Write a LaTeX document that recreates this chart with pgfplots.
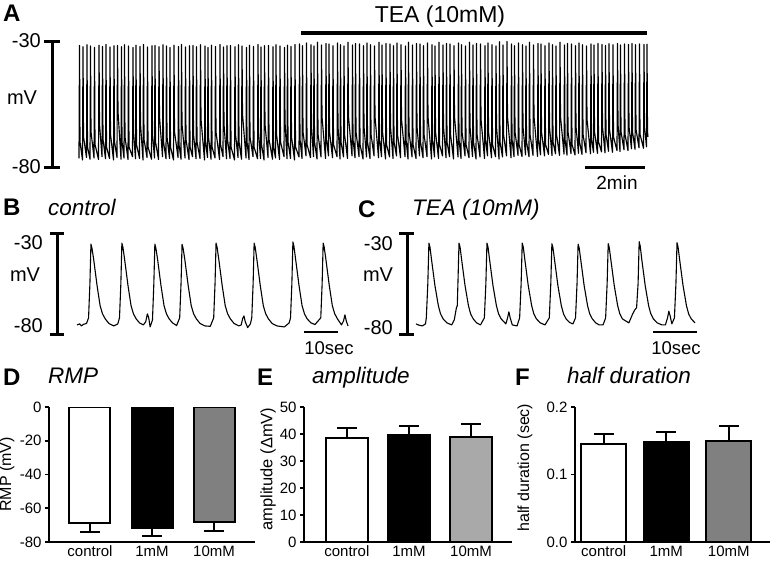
\documentclass[border=0pt]{standalone}
\usepackage{fontspec}
\setmainfont{Liberation Sans}
\usepackage{pgfplots}
\pgfplotsset{compat=1.18}
\definecolor{midgray}{HTML}{808080}
\definecolor{lightgray}{HTML}{A9A9A9}
\newcommand\fs[1]{\fontsize{#1}{#1}\selectfont}

\pgfplotsset{
  trace/.style={anchor=south west, scale only axis, hide axis, clip=false},
  bars/.style={anchor=south west, scale only axis, height=135pt, ybar, bar shift=0pt,
    axis x line*=bottom, axis y line*=left,
    xtick={0,1,2}, xticklabels={control,1mM,10mM}, xtick style={draw=none},
    tick align=outside, major tick length=4pt,
    axis line style={line width=1.8pt}, ytick style={line width=1.8pt, black},
    tick label style={font=\fs{15}}, /pgf/number format/assume math mode=true,
    xticklabel style={anchor=north, inner sep=0pt, text height=10.5pt, text depth=0pt, yshift=0pt},
    ylabel style={anchor=center},
    error bars/y explicit,
    error bars/error bar style={line width=1.8pt, black},
    error bars/error mark options={rotate=90, line width=1.8pt, black, mark size=10pt}},
  barfill/.style={draw=black, line width=2pt, fill=#1},
}

\begin{document}
\begin{tikzpicture}
\useasboundingbox (0pt,0pt) rectangle (771pt,-562pt);

% ---------------- A: long recording ----------------
\begin{axis}[trace, at={(79pt,-167pt)}, width=570pt, height=126pt,
  xmin=0, xmax=1140, ymin=-80, ymax=-30]
\addplot[black, line width=1.15pt, line join=round] coordinates {
(0,-76.6)(1,-31.8)(2,-70) (7,-77.2)(8,-32.3)(9,-68) (15,-76.2)(16,-31.5)(17,-72) (22,-76.9)(23,-32.0)(24,-66)
(30,-76.4)(31,-32.6)(32,-71) (39,-77.0)(40,-31.7)(41,-63) (46,-75.9)(47,-32.2)(48,-69) (53,-76.7)(54,-31.4)(55,-72)
(61,-76.6)(62,-32.4)(63,-67) (69,-77.2)(70,-31.9)(71,-70) (76,-76.2)(77,-31.8)(78,-58) (84,-76.9)(85,-32.3)(86,-70)
(90,-76.4)(91,-31.5)(92,-68) (98,-77.0)(99,-32.0)(100,-72) (107,-75.9)(108,-32.6)(109,-66) (113,-76.7)(114,-31.7)(115,-71)
(121,-76.6)(122,-32.2)(123,-63) (128,-77.2)(129,-31.4)(130,-69) (136,-76.2)(137,-32.4)(138,-72) (145,-76.9)(146,-31.9)(147,-67)
(151,-76.4)(152,-31.8)(153,-70) (159,-77.0)(160,-32.3)(161,-60) (167,-75.9)(168,-31.5)(169,-70) (174,-76.7)(175,-32.0)(176,-68)
(181,-76.6)(182,-32.6)(183,-72) (189,-77.2)(190,-31.7)(191,-66) (198,-76.2)(199,-32.2)(200,-71) (204,-76.9)(205,-31.4)(206,-63)
(212,-76.4)(213,-32.4)(214,-69) (220,-77.0)(221,-31.9)(222,-72) (227,-75.9)(228,-31.8)(229,-67) (234,-76.7)(235,-32.3)(236,-70)
(242,-76.6)(243,-31.5)(244,-61) (251,-77.2)(252,-32.0)(253,-70) (257,-76.2)(258,-32.6)(259,-68) (264,-76.9)(265,-31.7)(266,-72)
(272,-76.4)(273,-32.2)(274,-66) (281,-77.0)(282,-31.4)(283,-71) (288,-75.9)(289,-32.4)(290,-63) (295,-76.7)(296,-31.9)(297,-69)
(302,-76.6)(303,-31.8)(304,-72) (311,-77.2)(312,-32.3)(313,-67) (318,-76.2)(319,-31.5)(320,-70) (325,-76.9)(326,-32.0)(327,-59)
(334,-76.4)(335,-32.6)(336,-70) (340,-77.0)(341,-31.7)(342,-68) (348,-75.9)(349,-32.2)(350,-72) (357,-76.7)(358,-31.4)(359,-66)
(363,-76.6)(364,-32.4)(365,-71) (370,-77.2)(371,-31.9)(372,-63) (378,-76.2)(379,-31.8)(380,-69) (387,-76.9)(388,-32.3)(389,-72)
(393,-76.4)(394,-31.5)(395,-67) (401,-77.0)(402,-32.0)(403,-70) (410,-75.9)(411,-32.6)(412,-62) (416,-76.7)(417,-31.7)(418,-70)
(423,-76.6)(424,-32.2)(425,-68) (431,-77.2)(432,-31.4)(433,-72) (440,-76.0)(441,-31.2)(442,-69) (446,-76.6)(447,-31.9)(448,-66)
(454,-75.6)(455,-30.8)(456,-71) (463,-76.3)(464,-31.5)(465,-64) (469,-75.9)(470,-32.0)(471,-70) (476,-76.8)(477,-30.5)(478,-67)
(484,-76.0)(485,-31.6)(486,-60) (493,-76.6)(494,-31.0)(495,-69) (499,-75.6)(500,-31.2)(501,-66) (507,-76.3)(508,-31.9)(509,-71)
(516,-75.9)(517,-30.8)(518,-64) (522,-76.8)(523,-31.5)(524,-70) (529,-76.0)(530,-32.0)(531,-67) (537,-76.6)(538,-30.5)(539,-60)
(546,-75.6)(547,-31.6)(548,-69) (552,-76.3)(553,-31.0)(554,-66) (560,-75.9)(561,-31.2)(562,-71) (568,-76.8)(569,-31.9)(570,-64)
(575,-76.0)(576,-30.8)(577,-70) (582,-76.6)(583,-31.5)(584,-67) (590,-75.6)(591,-32.0)(592,-60) (599,-76.3)(600,-30.5)(601,-69)
(605,-75.9)(606,-31.6)(607,-66) (613,-76.8)(614,-31.0)(615,-71) (621,-76.0)(622,-31.2)(623,-64) (628,-76.6)(629,-31.9)(630,-70)
(635,-75.6)(636,-30.8)(637,-67) (643,-76.3)(644,-31.5)(645,-61) (652,-75.9)(653,-32.0)(654,-69) (658,-76.8)(659,-30.5)(660,-66)
(666,-76.0)(667,-31.6)(668,-71) (674,-76.6)(675,-31.0)(676,-64) (681,-75.6)(682,-31.2)(683,-70) (688,-76.3)(689,-31.9)(690,-67)
(696,-75.9)(697,-30.8)(698,-60) (705,-76.8)(706,-31.5)(707,-69) (711,-76.0)(712,-32.0)(713,-66) (719,-76.6)(720,-30.5)(721,-71)
(727,-75.6)(728,-31.6)(729,-64) (734,-76.3)(735,-31.0)(736,-70) (741,-75.9)(742,-31.2)(743,-67) (749,-76.8)(750,-31.9)(751,-60)
(758,-76.0)(759,-30.8)(760,-69) (764,-76.6)(765,-31.5)(766,-66) (772,-75.6)(773,-32.0)(774,-71) (780,-76.3)(781,-30.5)(782,-64)
(787,-75.9)(788,-31.6)(789,-70) (794,-76.8)(795,-31.0)(796,-67) (802,-76.0)(803,-31.2)(804,-61) (811,-76.6)(812,-31.9)(813,-69)
(817,-75.6)(818,-30.8)(819,-66) (825,-76.3)(826,-31.5)(827,-71) (833,-75.9)(834,-32.0)(835,-64) (840,-76.8)(841,-30.3)(842,-70)
(847,-76.0)(848,-31.6)(849,-67) (855,-75.6)(856,-30.2)(857,-60) (864,-76.3)(865,-31.2)(866,-69) (870,-75.9)(871,-31.9)(872,-66)
(878,-75.4)(879,-30.8)(880,-71) (886,-75.8)(887,-31.5)(888,-64) (893,-75.2)(894,-32.0)(895,-70) (900,-75.9)(901,-30.5)(902,-67)
(908,-75.4)(909,-31.6)(910,-60) (917,-75.8)(918,-31.0)(919,-69) (923,-75.2)(924,-31.2)(925,-66) (931,-75.6)(932,-31.9)(933,-71)
(939,-75.0)(940,-30.8)(941,-64) (946,-75.5)(947,-31.5)(948,-70) (953,-74.8)(954,-32.0)(955,-67) (961,-75.4)(962,-30.5)(963,-60)
(970,-74.9)(971,-31.6)(972,-69) (976,-75.3)(977,-31.0)(978,-66) (984,-74.7)(985,-31.2)(986,-71) (992,-75.2)(993,-31.9)(994,-64)
(999,-74.6)(1000,-30.8)(1001,-70) (1006,-75.0)(1007,-31.5)(1008,-67) (1014,-74.4)(1015,-32.0)(1016,-61) (1023,-74.8)(1024,-31.2)(1025,-69)
(1029,-74.2)(1030,-31.6)(1031,-66) (1037,-74.6)(1038,-31.0)(1039,-70) (1045,-74.0)(1046,-31.4)(1047,-64) (1052,-74.4)(1053,-31.8)(1054,-67)
(1059,-73.8)(1060,-31.1)(1061,-65) (1067,-74.2)(1068,-31.5)(1069,-68) (1076,-73.5)(1077,-31.0)(1078,-63) (1082,-73.9)(1083,-31.6)(1084,-66)
(1090,-73.2)(1091,-31.2)(1092,-67) (1098,-73.5)(1099,-31.4)(1100,-64) (1105,-72.8)(1106,-31.0)(1107,-66) (1112,-73.0)(1113,-31.5)(1114,-65)
(1120,-72.4)(1121,-31.2)(1122,-67) (1129,-72.6)(1130,-31.4)(1131,-64) (1135,-72.0)(1136,-31.3)(1137,-66)(1138,-68)
};
\end{axis}

% ---------------- B: control ----------------
\begin{axis}[trace, at={(77pt,-334pt)}, width=272pt, height=101pt,
  xmin=0, xmax=80, ymin=-80, ymax=-30]
\addplot[black, line width=1.1pt, line join=round] coordinates {
(0,-75.5)(0.8,-75)(1.3,-76)(1.9,-75.2)(2.8,-74.8)
(3.4,-72)(3.8,-55)(4.1,-35.5)(4.4,-37.5)(4.9,-43)(5.9,-56)(6.8,-66)(7.5,-70)(8.3,-72.5)(9.4,-74.8)(10.8,-76)(12.0,-75)
(12.5,-72)(12.9,-55)(13.2,-35)(13.5,-37)(14.0,-43)(15.0,-56)(15.9,-66)(16.6,-70)(17.4,-72.5)(18.4,-74.5)(19.5,-75.5)
(20.2,-74)(20.7,-70)(21.1,-72)(21.5,-76.5)
(22.2,-73)(22.6,-55)(22.9,-35.5)(23.2,-37.5)(23.7,-43)(24.7,-56)(25.6,-66)(26.3,-70)(27.1,-72.5)(28.1,-74.5)(29.3,-75.8)
(30.2,-72)(30.6,-55)(30.9,-35.6)(31.2,-37.5)(31.7,-43)(32.7,-56)(33.6,-66)(34.3,-70)(35.1,-72.5)(36.2,-74.8)(37.6,-76)(39.2,-76.2)
(40.2,-72)(40.6,-55)(40.9,-35)(41.2,-37)(41.7,-43)(42.7,-56)(43.6,-66)(44.3,-70)(45.1,-72.5)(46.2,-74.8)(47.6,-76)(48.3,-75.5)
(48.7,-72.5)(49.1,-71)(49.5,-74)(50.2,-76.8)(51.0,-75)
(51.4,-72)(51.8,-55)(52.1,-35)(52.4,-37)(52.9,-43)(53.9,-56)(54.8,-66)(55.5,-70)(56.3,-72.5)(57.4,-74.8)(58.8,-76)(61.0,-76.5)(62.4,-74.5)
(62.8,-72)(63.2,-55)(63.5,-34.4)(63.8,-36.5)(64.3,-43)(65.3,-56)(66.2,-66)(66.9,-70)(67.7,-72.5)(68.8,-74.5)(70.0,-75.3)
(71.7,-72)(72.1,-55)(72.4,-35)(72.7,-37)(73.2,-43)(74.2,-56)(75.1,-66)(75.8,-70)(76.6,-72.5)(77.8,-75.5)
(78.4,-73.5)(78.8,-70.5)(79.2,-73.5)(79.7,-76)
};
\end{axis}

% ---------------- C: TEA ----------------
\begin{axis}[trace, at={(416pt,-334pt)}, width=279.5pt, height=101pt,
  xmin=0, xmax=65, ymin=-80, ymax=-30]
\addplot[black, line width=1.1pt, line join=round] coordinates {
(0,-75)(0.5,-75.5)(1.5,-76)(2.2,-75)
(2.4,-72)(2.75,-55)(3.0,-35)(3.25,-37)(3.6,-43)(4.4,-56)(5.2,-66)(5.7,-70)(6.3,-72.5)(7.2,-74.5)(8.3,-75.5)
(8.9,-73)(9.4,-67)(9.6,-66)(9.75,-55)(10.0,-35)(10.25,-37)(10.6,-43)(11.4,-56)(12.2,-66)(12.7,-70)(13.3,-72.5)(14.1,-74.5)(15.0,-75.5)
(15.9,-72)(16.25,-55)(16.5,-35)(16.75,-37)(17.1,-43)(17.9,-56)(18.7,-66)(19.2,-70)(19.8,-72.5)(20.9,-75)
(21.3,-72)(21.6,-69)(21.9,-72)(22.4,-75.5)(23.5,-76)
(24.1,-72)(24.45,-55)(24.7,-35)(24.95,-37)(25.3,-43)(26.1,-56)(26.9,-66)(27.4,-70)(28.0,-72.5)(28.9,-74.5)(30.0,-75.5)
(31.0,-72)(31.35,-55)(31.6,-35.3)(31.85,-37.3)(32.2,-43)(33.0,-56)(33.8,-66)(34.3,-70)(34.9,-72.5)(35.7,-74.3)(36.5,-75)
(37.1,-72)(37.45,-55)(37.7,-35.5)(37.95,-37.5)(38.3,-43)(39.1,-56)(39.9,-66)(40.4,-70)(41.0,-72.5)(41.8,-74.5)(42.6,-75.5)(43.5,-75.5)
(44.1,-72)(44.45,-55)(44.7,-35.3)(44.95,-37.3)(45.3,-43)(46.1,-56)(46.9,-66)(47.4,-70)(48.0,-72.5)(49.5,-74.5)
(50.4,-70)(50.9,-68)(51.3,-67)(51.65,-55)(51.9,-34.3)(52.15,-36.5)(52.5,-43)(53.3,-56)(54.1,-66)(54.6,-70)(55.2,-72.5)(56.1,-74.5)(57.2,-75.5)(58.0,-75.5)
(58.5,-72)(58.8,-68.7)(59.1,-71)(59.5,-75)
(60.1,-72)(60.45,-55)(60.7,-34.8)(60.95,-37)(61.3,-43)(62.1,-56)(62.9,-66)(63.4,-70)(64.0,-72.5)(64.9,-74.5)
};
\end{axis}

% ---------------- D: RMP ----------------
\begin{axis}[bars, at={(49pt,-542pt)}, width=206pt, bar width=41pt,
  xmin=-0.66, xmax=2.66, ymin=-80, ymax=0, ytick={-80,-60,-40,-20,0},
  ylabel={RMP (mV)}, ylabel style={at={(axis description cs:-0.204,0.5)}, font=\fs{16}},
  error bars/y dir=minus]
\addplot[barfill=white] coordinates {(0,-68.9) +- (0,5.0)};
\addplot[barfill=black] coordinates {(1,-71.5) +- (0,4.9)};
\addplot[barfill=midgray] coordinates {(2,-68.3) +- (0,5.4)};
\end{axis}

% ---------------- E: amplitude ----------------
\begin{axis}[bars, at={(304pt,-542pt)}, width=208pt, bar width=42pt,
  xmin=-0.69, xmax=2.66, ymin=0, ymax=50, ytick={0,10,20,30,40,50},
  ylabel={amplitude (ΔmV)}, ylabel style={at={(axis description cs:-0.173,0.54)}, font=\fs{16.5}},
  error bars/y dir=plus]
\addplot[barfill=white] coordinates {(0,38.4) +- (0,3.7)};
\addplot[barfill=black] coordinates {(1,39.6) +- (0,3.5)};
\addplot[barfill=lightgray] coordinates {(2,38.8) +- (0,4.8)};
\end{axis}

% ---------------- F: half duration ----------------
\begin{axis}[bars, at={(575pt,-542pt)}, width=195pt, bar width=45pt,
  xmin=-0.46, xmax=2.66, ymin=0, ymax=0.2, ytick={0,0.1,0.2}, scaled y ticks=false,
  yticklabel style={/pgf/number format/.cd, fixed, fixed zerofill, precision=1},
  ylabel={half duration (sec)}, ylabel style={at={(axis description cs:-0.256,0.55)}, font=\fs{16}},
  error bars/y dir=plus]
\addplot[barfill=white] coordinates {(0,0.145) +- (0,0.015)};
\addplot[barfill=black] coordinates {(1,0.148) +- (0,0.015)};
\addplot[barfill=midgray] coordinates {(2,0.150) +- (0,0.022)};
\end{axis}

% ---------------- labels, scale bars ----------------
\begin{scope}[x=1pt, y=-1pt, inner sep=0pt]
% A
\node[anchor=base west, font=\fs{24}\bfseries] at (3,21) {A};
\node[anchor=base, font=\fs{23}] at (440,22) {TEA (10mM)};
\draw[line width=3.5pt] (301,33) -- (647,33);
\draw[line width=3pt] (52,41) -- (52,167) (44,41) -- (60,41) (44,167) -- (60,167);
\node[anchor=east, font=\fs{20}] at (41,41) {-30};
\node[anchor=east, font=\fs{20}] at (41,167) {-80};
\node[font=\fs{20}] at (22,98) {mV};
\draw[line width=3pt] (585,167) -- (645,167);
\node[font=\fs{19}] at (617,183) {2min};
% B
\node[anchor=base west, font=\fs{24}\bfseries] at (3,215) {B};
\node[anchor=base west, font=\fs{22.5}\itshape] at (48,215) {control};
\draw[line width=3pt] (57,233) -- (57,334) (50,233) -- (64,233) (50,334) -- (64,334);
\node[anchor=east, font=\fs{20}] at (43,243) {-30};
\node[anchor=east, font=\fs{20}] at (43,326) {-80};
\node[font=\fs{20}] at (25,275) {mV};
\draw[line width=2.5pt] (304,332) -- (338,332);
\node[font=\fs{18.5}] at (329,348) {10sec};
% C
\node[anchor=base west, font=\fs{24}\bfseries] at (358,217) {C};
\node[anchor=base west, font=\fs{22.5}\itshape] at (412,215) {TEA (10mM)};
\draw[line width=3pt] (407,233) -- (407,334) (399,233) -- (414,233) (399,334) -- (414,334);
\node[anchor=east, font=\fs{20}] at (393,244) {-30};
\node[anchor=east, font=\fs{20}] at (393,328) {-80};
\node[font=\fs{20}] at (378,275) {mV};
\draw[line width=2.5pt] (653,332) -- (697,332);
\node[font=\fs{18.5}] at (676,348) {10sec};
% D, E, F titles
\node[anchor=base west, font=\fs{24}\bfseries] at (3,385) {D};
\node[anchor=base west, font=\fs{22.5}\itshape] at (48,383) {RMP};
\node[anchor=base west, font=\fs{24}\bfseries] at (257,385) {E};
\node[anchor=base west, font=\fs{22.5}\itshape] at (312,383) {amplitude};
\node[anchor=base west, font=\fs{24}\bfseries] at (515,385) {F};
\node[anchor=base west, font=\fs{22.5}\itshape] at (567,383) {half duration};
\end{scope}
\end{tikzpicture}
\end{document}
